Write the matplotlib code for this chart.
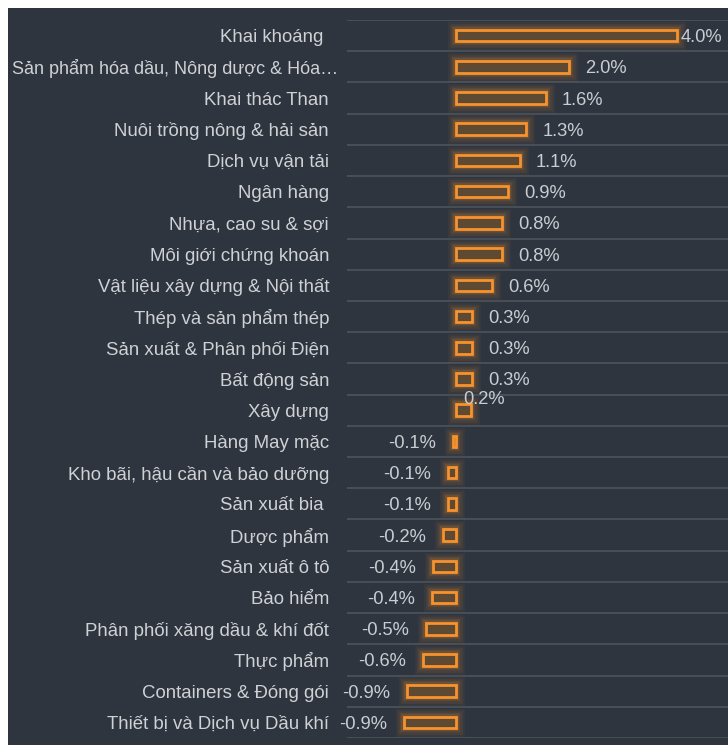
import matplotlib.pyplot as plt
import matplotlib.transforms as mtransforms
from matplotlib.patches import Rectangle

plt.rcParams['font.family'] = ['Liberation Sans', 'DejaVu Sans']

# sector names, top to bottom
categories = [
    "Khai khoáng ", "Sản phẩm hóa dầu, Nông dược & Hóa…", "Khai thác Than",
    "Nuôi trồng nông & hải sản", "Dịch vụ vận tải", "Ngân hàng",
    "Nhựa, cao su & sợi", "Môi giới chứng khoán", "Vật liệu xây dựng & Nội thất",
    "Thép và sản phẩm thép", "Sản xuất & Phân phối Điện", "Bất động sản",
    "Xây dựng", "Hàng May mặc", "Kho bãi, hậu cần và bảo dưỡng",
    "Sản xuất bia ", "Dược phẩm", "Sản xuất ô tô", "Bảo hiểm",
    "Phân phối xăng dầu & khí đốt", "Thực phẩm", "Containers & Đóng gói",
    "Thiết bị và Dịch vụ Dầu khí",
]
# change in %
values = [4.0, 2.05, 1.63, 1.27, 1.16, 0.94, 0.83, 0.83, 0.65, 0.29, 0.29, 0.29,
          0.27, -0.06, -0.14, -0.14, -0.23, -0.42, -0.43, -0.54, -0.6, -0.89, -0.94]
value_labels = ["4.0%", "2.0%", "1.6%", "1.3%", "1.1%", "0.9%", "0.8%", "0.8%",
                "0.6%", "0.3%", "0.3%", "0.3%", "0.2%", "-0.1%", "-0.1%", "-0.1%",
                "-0.2%", "-0.4%", "-0.4%", "-0.5%", "-0.6%", "-0.9%", "-0.9%"]

bg = '#2e353f'
orange = '#f7922f'
W, H = 728, 745

fig = plt.figure(figsize=(W / 100, H / 100), dpi=100, facecolor='white')
fig.patches.append(Rectangle((8 / W, 0), 1, 1 - 8 / H, transform=fig.transFigure,
                             facecolor=bg, edgecolor='none', zorder=-10))

ax = fig.add_axes([347 / W, 7 / H, 1 - 347 / W, (738 - 20) / H])
ax.set_facecolor('none')
for s in ax.spines.values():
    s.set_visible(False)

n = len(categories)
ypos = list(range(n))
ax.set_ylim(n - 0.5, -0.5)
ax.set_xlim((347 - 456) / 55.25, (728 - 456) / 55.25)
ax.set_xticks([])
ax.set_yticks([])

for k in range(-1, n):
    ax.axhline(k + 0.5, color='#4b5159', lw=1.3, zorder=0)

# glow
for lw, a in [(12, 0.06), (9, 0.08), (6, 0.1), (4, 0.14)]:
    ax.barh(ypos, values, height=0.37, color='none', edgecolor=orange,
            linewidth=lw, alpha=a, zorder=1)
ax.barh(ypos, values, height=0.37, color='#5e4a33', edgecolor=orange,
        linewidth=2, zorder=2)

# category labels
trans = mtransforms.blended_transform_factory(ax.transAxes, ax.transData)
for i, cat in enumerate(categories):
    if cat.endswith('…'):
        dx, fs = -9, 13
    else:
        dx, fs = -18, 13.4
    ax.annotate(cat, (0, i), xycoords=trans, xytext=(dx, 0),
                textcoords='offset pixels', ha='right', va='center_baseline',
                fontsize=fs, color='#cfd1d4', annotation_clip=False)

for i, (v, lab) in enumerate(zip(values, value_labels)):
    if i == 0:
        off, ha, dy = 4, 'left', 0
    elif i == 12:
        off, ha, dy = -8, 'left', 13
    elif v >= 0:
        off, ha, dy = 16, 'left', 0
    else:
        off, ha, dy = -17, 'right', 0
    ax.annotate(lab, (v, i), xytext=(off, dy), textcoords='offset pixels',
                ha=ha, va='center_baseline', fontsize=13.2, color='#c9ccd0', zorder=3)

fig.savefig('out.png', dpi=100, facecolor='white')
